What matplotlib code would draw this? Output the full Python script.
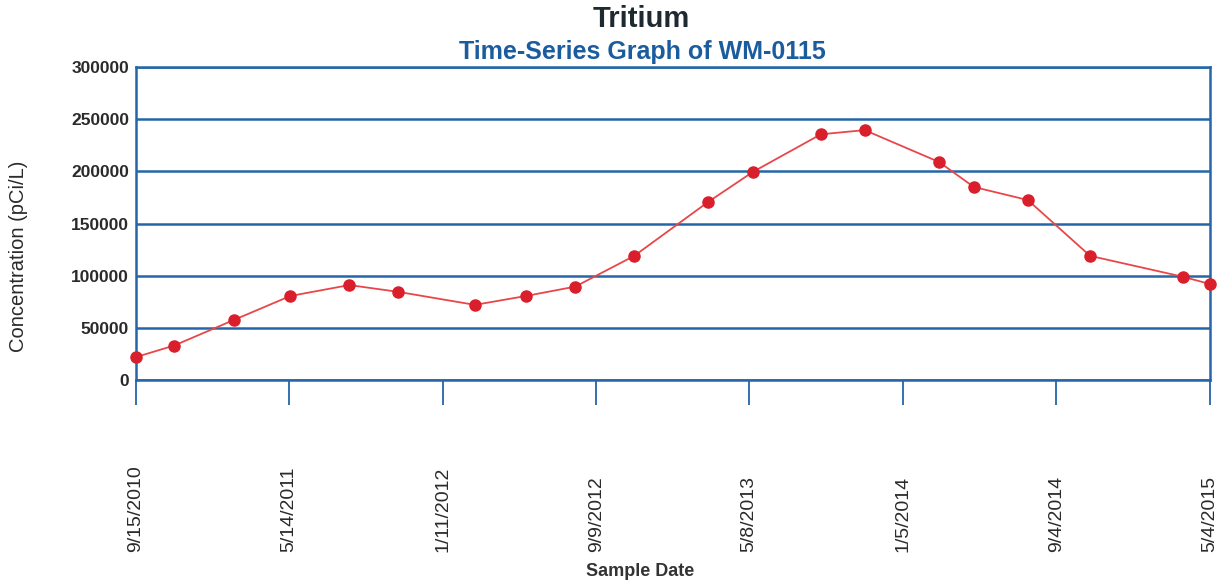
import matplotlib.pyplot as plt
import pandas as pd

plt.rcParams['font.family'] = ['Liberation Sans', 'DejaVu Sans']

# sample dates and tritium concentration (pCi/L)
sample_dates = ["2010-09-15", "2010-11-14", "2011-02-16", "2011-05-16", "2011-08-17",
                "2011-11-02", "2012-03-02", "2012-05-21", "2012-08-07", "2012-11-08",
                "2013-03-04", "2013-05-14", "2013-08-29", "2013-11-06", "2014-03-03",
                "2014-04-27", "2014-07-21", "2014-10-27", "2015-03-22", "2015-05-04"]
concentration = [22000, 33000, 57500, 80500, 91000,
                 84500, 72000, 80500, 89500, 119000,
                 170500, 199500, 235500, 239500, 209000,
                 185000, 172500, 119000, 99000, 92000]

tick_dates = ["2010-09-15", "2011-05-14", "2012-01-11", "2012-09-09",
              "2013-05-08", "2014-01-05", "2014-09-04", "2015-05-04"]
tick_labels = ["9/15/2010", "5/14/2011", "1/11/2012", "9/9/2012",
               "5/8/2013", "1/5/2014", "9/4/2014", "5/4/2015"]
y_ticks = [0, 50000, 100000, 150000, 200000, 250000, 300000]

blue = '#2466a8'
W, H = 1221, 588

fig = plt.figure(figsize=(W / 100, H / 100), dpi=100)
ax = fig.add_axes([136 / W, 1 - 380 / H, (1210 - 136) / W, (380 - 67) / H])

x = pd.to_datetime(sample_dates)
ax.plot(x, concentration, color='#e8474a', lw=1.3, zorder=3)
ax.plot(x, concentration, 'o', color='#d91f2b', ms=8, zorder=4, clip_on=False)

ax.set_xlim(pd.Timestamp(tick_dates[0]), pd.Timestamp(tick_dates[-1]))
ax.set_ylim(0, 300000)

ax.set_yticks(y_ticks)
ax.set_yticklabels([str(v) for v in y_ticks], fontsize=12.5, fontweight='bold', color='#2a2a2a')
ax.yaxis.grid(True, color=blue, lw=1.8)
ax.tick_params(axis='y', length=0, pad=5)

ax.set_xticks(pd.to_datetime(tick_dates))
ax.set_xticklabels(tick_labels, rotation=90, va='bottom', ha='center',
                   fontsize=14, color='#2a2a2a')
ax.tick_params(axis='x', length=18, width=1.3, color=blue, direction='out', pad=106)

for s in ax.spines.values():
    s.set_color(blue)
    s.set_linewidth(1.8)

fig.text(640 / W, 1 - 572 / H, "Sample Date", ha='center', va='center',
         fontsize=13, fontweight='bold', color='#333333')
fig.text(19 / W, 1 - 256 / H, "Concentration (pCi/L)", rotation=90, ha='center', va='center',
         fontsize=14.5, color='#2a2a2a')

fig.text(641 / W, 1 - 19 / H, "Tritium", ha='center', va='center',
         fontsize=21, fontweight='bold', color='#1e2a30')
fig.text(642 / W, 1 - 52 / H, "Time-Series Graph of WM-0115", ha='center', va='center',
         fontsize=18, fontweight='bold', color='#1a5c9e')

fig.savefig('out.png', dpi=100)
